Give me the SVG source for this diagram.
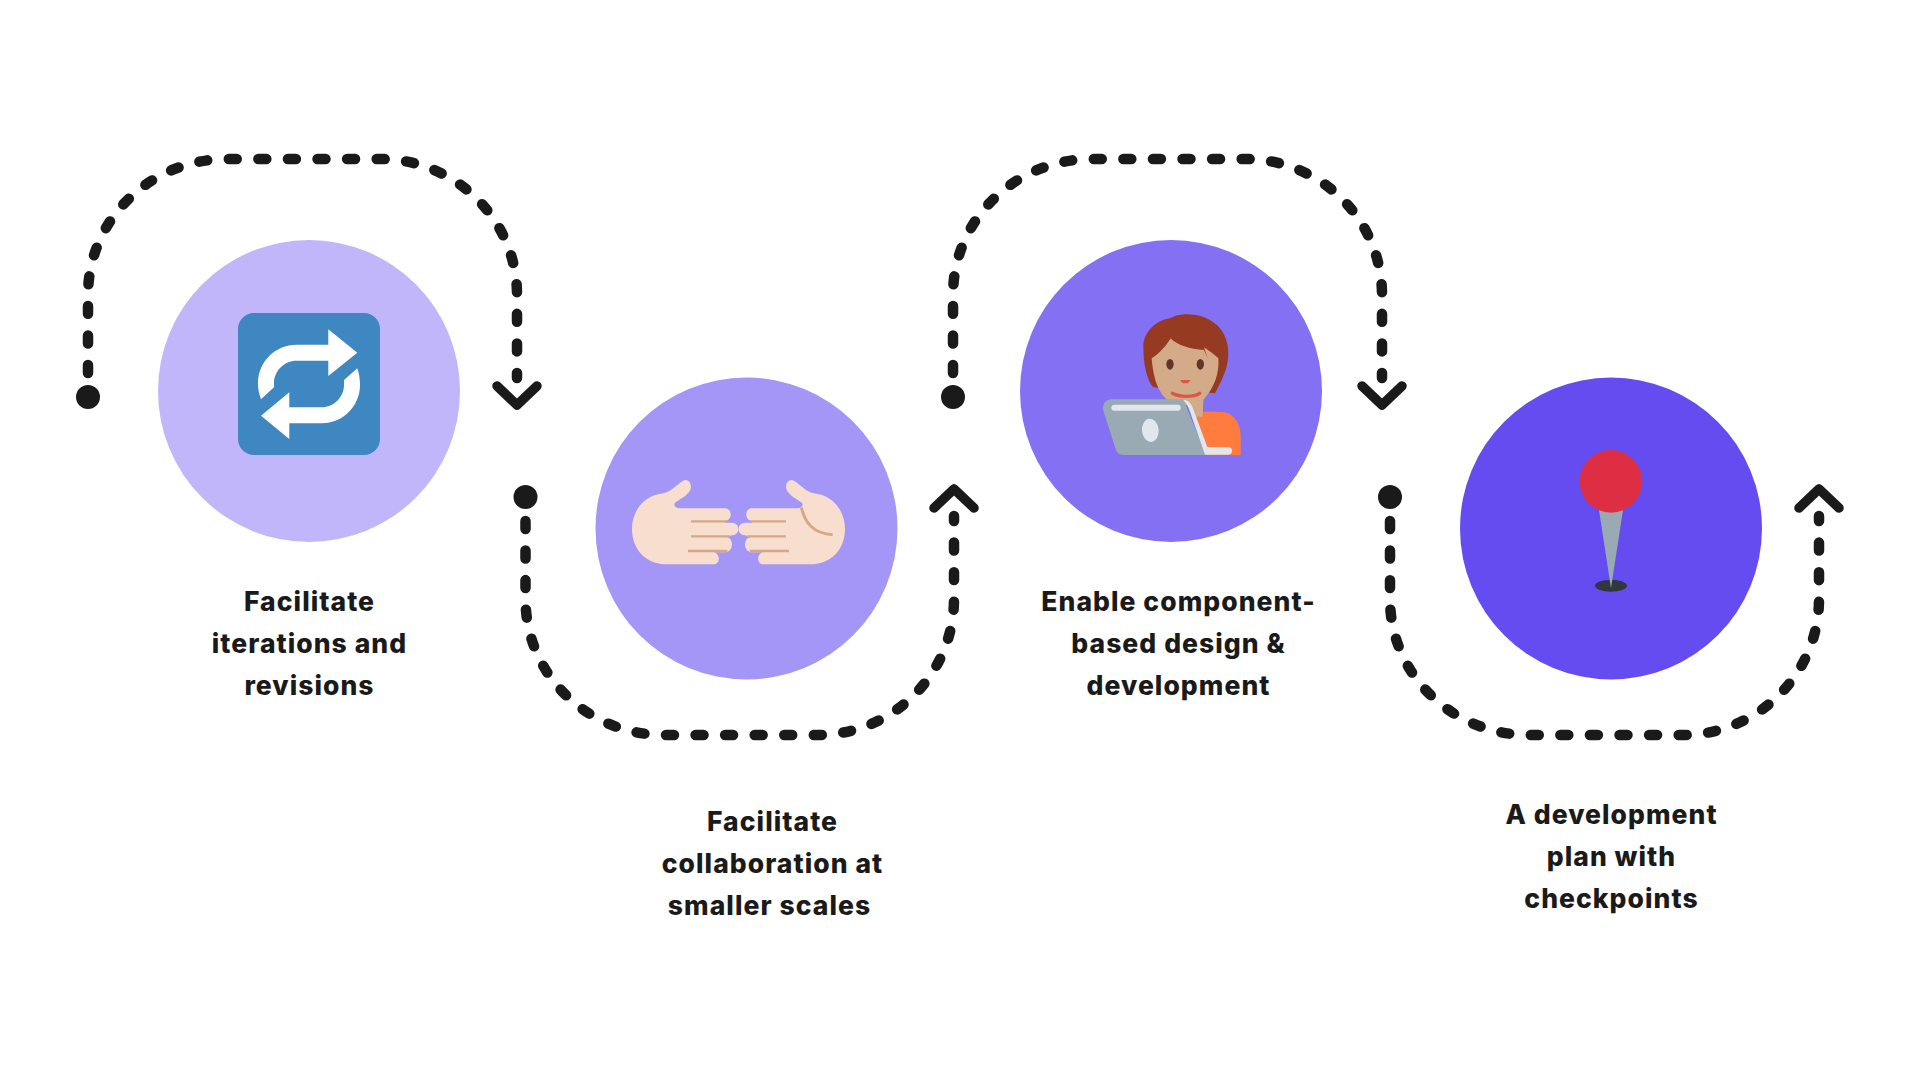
<svg xmlns="http://www.w3.org/2000/svg" width="1920" height="1080" viewBox="0 0 1920 1080">
<style>
.dash{fill:none;stroke:#1a1a1a;stroke-width:10.5;stroke-linecap:round;stroke-linejoin:round;stroke-dasharray:8 21.7}
.chev{fill:none;stroke:#1a1a1a;stroke-width:9.5;stroke-linecap:round;stroke-linejoin:round}
.dot{fill:#1a1a1a}
.lbl{font-family:"Inter","Liberation Sans",sans-serif;font-weight:800;font-size:26.5px;letter-spacing:1.05px;fill:#1a1a1a;text-anchor:middle}
.skin{fill:#f7dece}
</style>
<rect width="1920" height="1080" fill="#ffffff"/>
<g id="connectors">
<path class="dash" pathLength="747.5" d="M88 373V295C88 220 150 159 227 159H380C456 159 517 220 517 295V378"/>
<circle class="dot" cx="88" cy="397" r="12"/>
<path class="chev" d="M497 386L517 405L537 386"/>
<path class="dash" pathLength="747.5" d="M525.5 521V599C525.5 674 587 735 664 735H817C893 735 954 674 954 599V516"/>
<circle class="dot" cx="525.5" cy="497" r="12"/>
<path class="chev" d="M934 508L954 489L974 508"/>
<path class="dash" pathLength="747.5" d="M953 373V295C953 220 1015 159 1092 159H1245C1321 159 1382 220 1382 295V378"/>
<circle class="dot" cx="953" cy="397" r="12"/>
<path class="chev" d="M1362 386L1382 405L1402 386"/>
<path class="dash" pathLength="747.5" d="M1390 521V599C1390 674 1452 735 1529 735H1682C1758 735 1819 674 1819 599V516"/>
<circle class="dot" cx="1390" cy="497" r="12"/>
<path class="chev" d="M1799 508L1819 489L1839 508"/>
</g>
<g id="node1">
<circle cx="309" cy="391" r="151" fill="#c1b6f9"/>
<rect x="238" y="313" width="142" height="142" rx="16" fill="#3e87c1"/>
<path fill="#fff" d="M328.3 329.3L357.3 352.7L328.3 376V360.7H296.7C284 360.7 274 371 274 383.3V387.3L261 399.3C259 394 258 389 258 383.3C258 362 275 344.7 296.7 344.7H328.3Z"/>
<path fill="#fff" d="M289.3 392.3L261 415.7L289.3 439V423.3H321.7C343 423.3 360 406 360 385C360 379 359 373 357.3 368.3L344 380V385C344 397 334 407.3 321.7 407.3H289.3Z"/>
<text class="lbl" x="309.5" y="611">Facilitate</text>
<text class="lbl" x="309.5" y="653">iterations and</text>
<text class="lbl" x="309.5" y="695">revisions</text>
</g>
<g id="node2">
<circle cx="746.5" cy="528.5" r="151" fill="#a396f7"/>
<g transform="translate(610 450) scale(.33333)">
<path class="skin" d="M170 343C105 343 66 295 66 237C66 180 105 135 160 130C180 126 200 105 218 93C230 85 243 95 243 110C243 130 215 145 195 158C190 165 195 175 210 175H345C368 175 368 212 345 212V218H365C392 218 392 256 365 256L350 262C372 265 372 305 345 307H310C332 310 332 343 310 343Z"/>
<path class="skin" transform="translate(771 0) scale(-1 1)" d="M170 343C105 343 66 295 66 237C66 180 105 135 160 130C180 126 200 105 218 93C230 85 243 95 243 110C243 130 215 145 195 158C190 165 195 175 210 175H345C368 175 368 212 345 212V218H365C392 218 392 256 365 256L350 262C372 265 372 305 345 307H310C332 310 332 343 310 343Z"/>
<g fill="none" stroke="#d6a888" stroke-width="7">
<path d="M243 214H350M243 259H360M234 303H352M422 214H528M411 259H528M419 303H537"/>
<path stroke-width="9" d="M574 172C585 220 610 250 668 254"/>
</g>
</g>
<text class="lbl" x="772.5" y="831">Facilitate</text>
<text class="lbl" x="772.5" y="873">collaboration at</text>
<text class="lbl" x="769.5" y="915">smaller scales</text>
</g>
<g id="node3">
<circle cx="1171" cy="391" r="151" fill="#8370f3"/>
<g transform="translate(1080 290) scale(.33333)">
<path fill="#963b22" d="M270 85C300 65 380 65 420 115C455 160 450 220 425 270L405 310L220 292C200 270 190 220 190 170C190 125 230 90 270 85Z"/>
<path fill="#ff7b3e" d="M345 365H420C460 365 482 400 482 440V495H370Z"/>
<path fill="#d4ab88" d="M215 205C240 190 260 165 272 145C290 165 330 178 372 180L383 205L372 172C390 185 405 195 415 205C418 250 405 290 370 330L368 380H340L330 345H280C245 320 222 290 215 205Z"/>
<ellipse cx="270" cy="223" rx="11" ry="16" fill="#60352a"/>
<ellipse cx="361" cy="223" rx="11" ry="16" fill="#60352a"/>
<path fill="#d9584a" d="M300 270H332L324 280H308Z"/>
<path fill="none" stroke="#d9584a" stroke-width="10" stroke-linecap="round" d="M277 310C300 322 340 322 359 310"/>
<path fill="#99aab5" d="M95 328H310L378 495H130C118 495 110 488 107 478L72 368C64 345 75 328 95 328Z"/>
<path fill="#e1e8ed" d="M310 330C325 330 332 340 337 350L382 471H445C460 472 460 494 445 494H375L330 365C325 350 320 340 310 330Z"/>
<rect x="94" y="344" width="208" height="18" rx="9" fill="#e1e8ed"/>
<ellipse cx="211" cy="421" rx="25" ry="35" fill="#e1e8ed" transform="rotate(-5 211 421)"/>
</g>
<text class="lbl" x="1178.5" y="611">Enable component-</text>
<text class="lbl" x="1178.5" y="653">based design &amp;</text>
<text class="lbl" x="1178.5" y="695">development</text>
</g>
<g id="node4">
<circle cx="1611" cy="528.5" r="151" fill="#654cf0"/>
<g transform="translate(1540 430) scale(.33333)">
<ellipse cx="213" cy="467" rx="48" ry="18" fill="#31373d"/>
<path fill="#99aab5" d="M177 240H249L213 475Z"/>
<circle cx="213" cy="154" r="94" fill="#dd2e44"/>
</g>
<text class="lbl" x="1611.5" y="824">A development</text>
<text class="lbl" x="1611.5" y="866">plan with</text>
<text class="lbl" x="1611.5" y="908">checkpoints</text>
</g>
</svg>
